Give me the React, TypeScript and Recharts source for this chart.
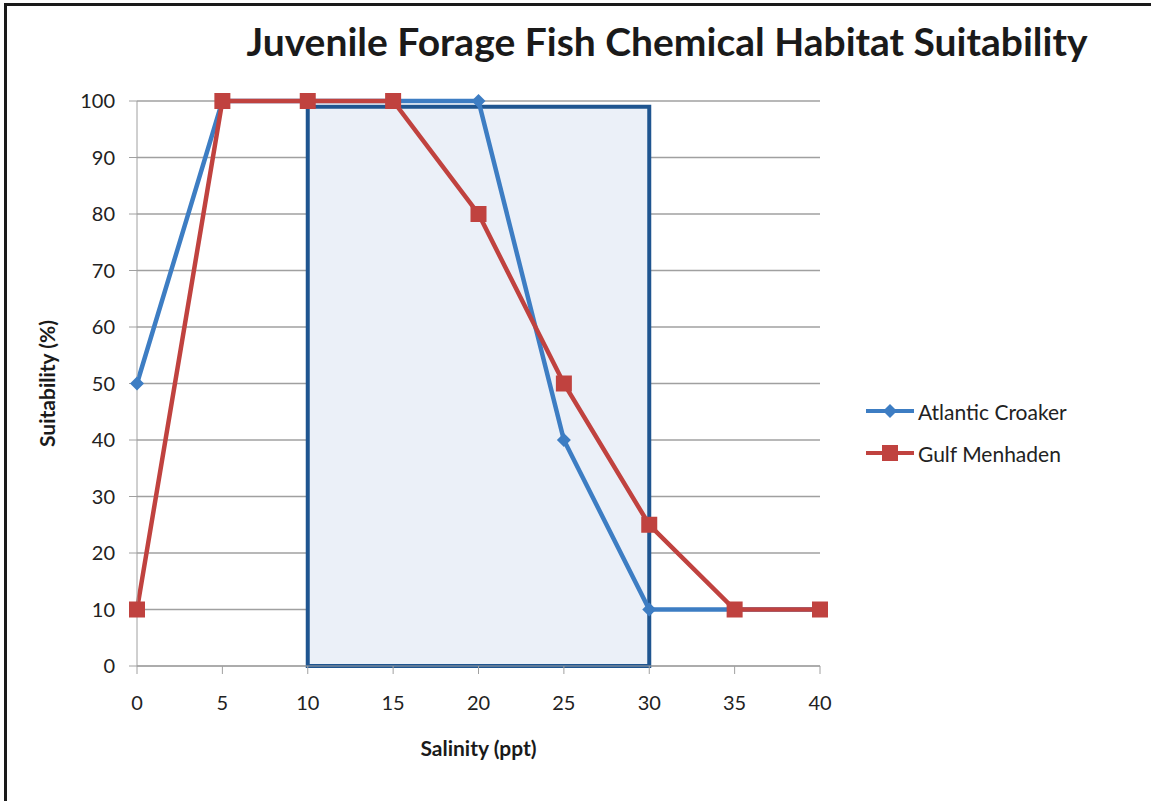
import { LineChart, Line, XAxis, YAxis, CartesianGrid, ReferenceArea } from 'recharts'

const salinity = [0, 5, 10, 15, 20, 25, 30, 35, 40]
const croaker = [50, 100, 100, 100, 100, 40, 10, 10, 10]
const menhaden = [10, 100, 100, 100, 80, 50, 25, 10, 10]
const xTicks = [0, 5, 10, 15, 20, 25, 30, 35, 40]
const yTicks = [0, 10, 20, 30, 40, 50, 60, 70, 80, 90, 100]
const optimalRange = [10, 30]
const optimalTop = 99

const data = salinity.map((s, i) => ({ salinity: s, croaker: croaker[i], menhaden: menhaden[i] }))

const FONT = 'Lato, "Open Sans", sans-serif'
const BLUE = '#3d7dc3'
const RED = '#c0423f'
const AXIS = '#a0a0a0'

function Diamond ({ cx, cy, r = 7 }: { cx: number; cy: number; r?: number }) {
  return <path d={`M${cx},${cy - r}L${cx + r},${cy}L${cx},${cy + r}L${cx - r},${cy}Z`} fill={BLUE} />
}

function Square ({ cx, cy, s = 8 }: { cx: number; cy: number; s?: number }) {
  return <rect x={cx - s} y={cy - s} width={s * 2} height={s * 2} fill={RED} />
}

function LegendItem ({ label, color, marker }: { label: string; color: string; marker: 'diamond' | 'square' }) {
  return (
    <div style={{ display: 'flex', alignItems: 'center', height: 42 }}>
      <svg width={52} height={20}>
        <line x1={0} y1={10} x2={48} y2={10} stroke={color} strokeWidth={4} />
        {marker === 'diamond' ? <Diamond cx={24} cy={10} /> : <Square cx={24} cy={10} />}
      </svg>
      <span style={{ fontSize: 21, color: '#222' }}>{label}</span>
    </div>
  )
}

export default function App () {
  return (
    <div style={{ position: 'absolute', left: 0, top: 0, width: 1151, height: 801, background: '#fff', fontFamily: FONT, overflow: 'hidden' }}>
      <div style={{ position: 'absolute', left: 4, top: 3, width: 1200, height: 900, border: '3px solid #1a1a1a' }} />

      <div style={{ position: 'absolute', left: 667, top: 18, transform: 'translateX(-50%)', whiteSpace: 'nowrap', fontSize: 39, fontWeight: 700, color: '#1a1a1a' }}>
        Juvenile Forage Fish Chemical Habitat Suitability
      </div>

      <div style={{ position: 'absolute', left: 0, top: 0 }}>
        <LineChart width={1151} height={801} data={data} margin={{ top: 101, right: 331, bottom: 105, left: 77 }}>
          <CartesianGrid vertical={false} stroke={AXIS} strokeWidth={1.3} />
          <ReferenceArea
            x1={optimalRange[0]}
            x2={optimalRange[1]}
            y1={0}
            y2={optimalTop}
            fill='#ebf0f8'
            fillOpacity={1}
            stroke='#1f5590'
            strokeWidth={4}
          />
          <XAxis
            dataKey='salinity'
            type='number'
            domain={[0, 40]}
            ticks={xTicks}
            height={30}
            stroke={AXIS}
            tickSize={8}
            tickMargin={22}
            tick={{ fill: '#222', fontSize: 20, fontFamily: FONT }}
            label={{ value: 'Salinity (ppt)', position: 'insideBottom', offset: -60, fill: '#1a1a1a', fontSize: 21, fontWeight: 700, fontFamily: FONT }}
          />
          <YAxis
            type='number'
            domain={[0, 100]}
            ticks={yTicks}
            width={60}
            stroke={AXIS}
            tickSize={8}
            tickMargin={14}
            tick={{ fill: '#222', fontSize: 20, fontFamily: FONT }}
            label={{ value: 'Suitability (%)', angle: -90, position: 'insideLeft', offset: -29, fill: '#1a1a1a', fontSize: 21, fontWeight: 700, fontFamily: FONT, style: { textAnchor: 'middle' } }}
          />
          <Line
            type='linear'
            dataKey='croaker'
            stroke={BLUE}
            strokeWidth={4.5}
            isAnimationActive={false}
            dot={(p: any) => <Diamond key={`c-${p.index}`} cx={p.cx} cy={p.cy} />}
            activeDot={false}
          />
          <Line
            type='linear'
            dataKey='menhaden'
            stroke={RED}
            strokeWidth={4.5}
            isAnimationActive={false}
            dot={(p: any) => <Square key={`m-${p.index}`} cx={p.cx} cy={p.cy} />}
            activeDot={false}
          />
        </LineChart>
      </div>

      <div style={{ position: 'absolute', left: 866, top: 390 }}>
        <LegendItem label='Atlantic Croaker' color={BLUE} marker='diamond' />
        <LegendItem label='Gulf Menhaden' color={RED} marker='square' />
      </div>
    </div>
  )
}
